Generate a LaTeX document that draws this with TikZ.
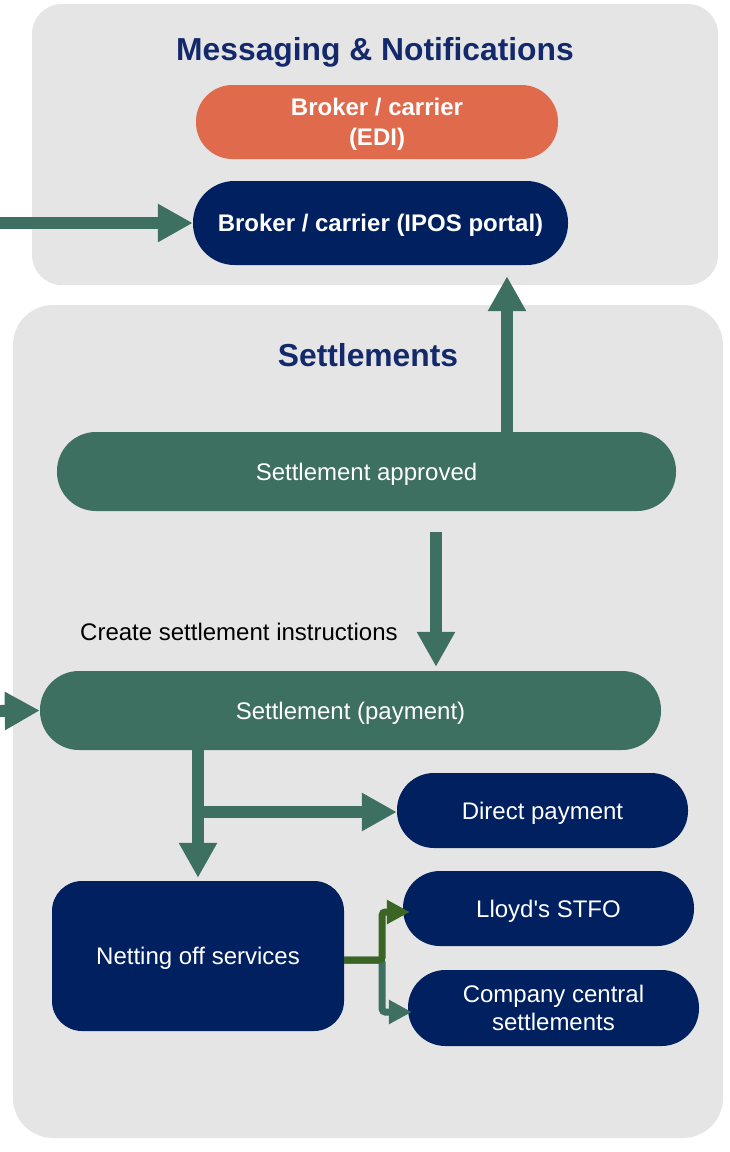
\documentclass[tikz,border=0pt]{standalone}
\usepackage{fontspec}
\setmainfont{Liberation Sans}[Ligatures=TeXOff]
\usetikzlibrary{arrows.meta}
\definecolor{cnavy}{HTML}{002060}
\definecolor{ctitle}{HTML}{13296B}
\definecolor{cteal}{HTML}{3E7061}
\definecolor{corange}{HTML}{E06A4C}
\definecolor{cgreen}{HTML}{3B6524}
\definecolor{cpanel}{HTML}{E5E5E5}
\tikzset{
  panel/.style={fill=cpanel},
  title/.style={text=ctitle, font=\bfseries\fontsize{31.8}{36}\selectfont},
  pill/.style={rectangle, inner sep=0pt, text=white, align=center, text depth=0pt, font=\fontsize{24}{28}\selectfont},
  boldpill/.style={pill, font=\bfseries\fontsize{24}{30}\selectfont},
  fatarrow/.style={draw=cteal, line width=12pt, -{Triangle[width=36pt,length=35pt]}},
  thinarrow/.style={line width=7pt, rounded corners=3pt, -{Triangle[width=23pt,length=23pt]}},
  plain/.style={font=\fontsize{24}{28}\selectfont, text=black, inner sep=0pt}
}
\begin{document}
\begin{tikzpicture}[x=1pt,y=-1pt]
\useasboundingbox (0,0) rectangle (730,1152);
% panels
\fill[panel, rounded corners=30pt] (32,4) rectangle (718,285);
\fill[panel, rounded corners=40pt] (13,305) rectangle (723,1138);
% titles
\node[title] (t1) at (375,52) {Messaging \& Notifications};
\node[title] (t2) at (368,355) {Settlements};
% coordinates
\coordinate (inA) at (0,223);
\coordinate (inB) at (0,711);
\coordinate (xup) at (507,0);
\coordinate (xdn) at (436,0);
\coordinate (xpay) at (198,0);
\coordinate (ybr) at (0,812);
% nodes
\node[boldpill, fill=corange, minimum width=362pt, minimum height=74pt, rounded corners=36.5pt] (edi) at (377,122) {Broker / carrier\\(EDI)};
\node[boldpill, fill=cnavy, minimum width=375pt, minimum height=84pt, rounded corners=41.5pt] (ipos) at (380.5,223) {Broker / carrier (IPOS portal)};
\node[pill, fill=cteal, minimum width=619pt, minimum height=79pt, rounded corners=39pt] (appr) at (366.5,471.5) {Settlement approved};
\node[pill, fill=cteal, minimum width=621pt, minimum height=79pt, rounded corners=39pt] (pay) at (350.5,710.5) {Settlement (payment)};
\node[plain, anchor=west] (instr) at (80,632) {Create settlement instructions};
% arrows
\draw[fatarrow] (inA) -- (ipos.west);
\draw[fatarrow, shorten >=11pt] (xup |- appr.north) -- (xup |- ipos.south);
\draw[fatarrow, shorten <=21pt, shorten >=4pt] (xdn |- appr.south) -- (xdn |- pay.north);
\draw[fatarrow] (inB) -- (pay.west);
\node[pill, fill=cnavy, minimum width=291pt, minimum height=75pt, rounded corners=37pt] (direct) at (542.5,810.5) {Direct payment};
\node[pill, fill=cnavy, minimum width=292pt, minimum height=150pt, rounded corners=30pt] (net) at (198,956) {Netting off services};
\node[pill, fill=cnavy, minimum width=291pt, minimum height=75pt, rounded corners=37pt] (stfo) at (548.5,908.5) {Lloyd's STFO};
\node[pill, fill=cnavy, minimum width=291pt, minimum height=76pt, rounded corners=37.5pt] (ccs) at (553.5,1008) {Company central\\settlements};
\draw[fatarrow, shorten >=3pt] (xpay |- pay.south) -- (xpay |- net.north);
\draw[fatarrow] (xpay |- ybr) -- (ybr -| direct.west);
\draw[thinarrow, draw=cteal, shorten >=-4pt] ([yshift=-4pt]net.east) -- ++(38,0) |- ([yshift=-4pt]ccs.west);
\draw[thinarrow, draw=cgreen, shorten >=-7pt] ([yshift=-4pt]net.east) -- ++(38,0) |- ([yshift=-3.5pt]stfo.west);
\end{tikzpicture}
\end{document}
